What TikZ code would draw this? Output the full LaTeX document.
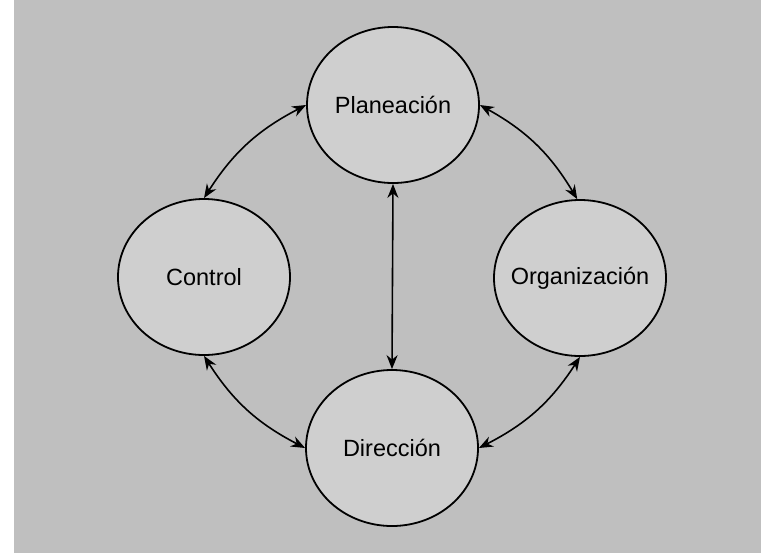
\documentclass[tikz,border=0pt]{standalone}
\usepackage{fontspec}
\setmainfont{Liberation Sans}
\usetikzlibrary{shapes.geometric,arrows.meta}
\definecolor{bggray}{gray}{0.75}
\definecolor{cirgray}{gray}{0.81}
\tikzset{
  phase/.style={ellipse, draw=black, line width=1.8pt, fill=cirgray,
    minimum width=172pt, minimum height=156pt, inner sep=0pt,
    font=\fontsize{23.5}{27}\selectfont},
  link/.style={line width=1.6pt, {Stealth[length=14pt,width=11pt]}-{Stealth[length=14pt,width=11pt]}},
}
\begin{document}
\begin{tikzpicture}[x=1pt,y=1pt]
\useasboundingbox (0,0) rectangle (761,-558);
\fill[bggray] (14,0) rectangle (761,-553);
\node[phase] (P) at (393,-105) {\makebox[0pt]{Planeación}};
\node[phase] (C) at (204,-277) {\makebox[0pt]{Control}};
\node[phase] (O) at (580,-278) {\makebox[0pt]{Organización}};
\node[phase] (D) at (392,-448) {\makebox[0pt]{Dirección}};
\draw[link] (C.90) to[bend left=15] (P.180);
\draw[link] (P.0) to[bend left=15] (O.92);
\draw[link] (O.270) to[bend left=15] (D.0);
\draw[link] (D.180) to[bend left=15] (C.270);
\draw[link] (P.south) -- (D.north);
\end{tikzpicture}
\end{document}
